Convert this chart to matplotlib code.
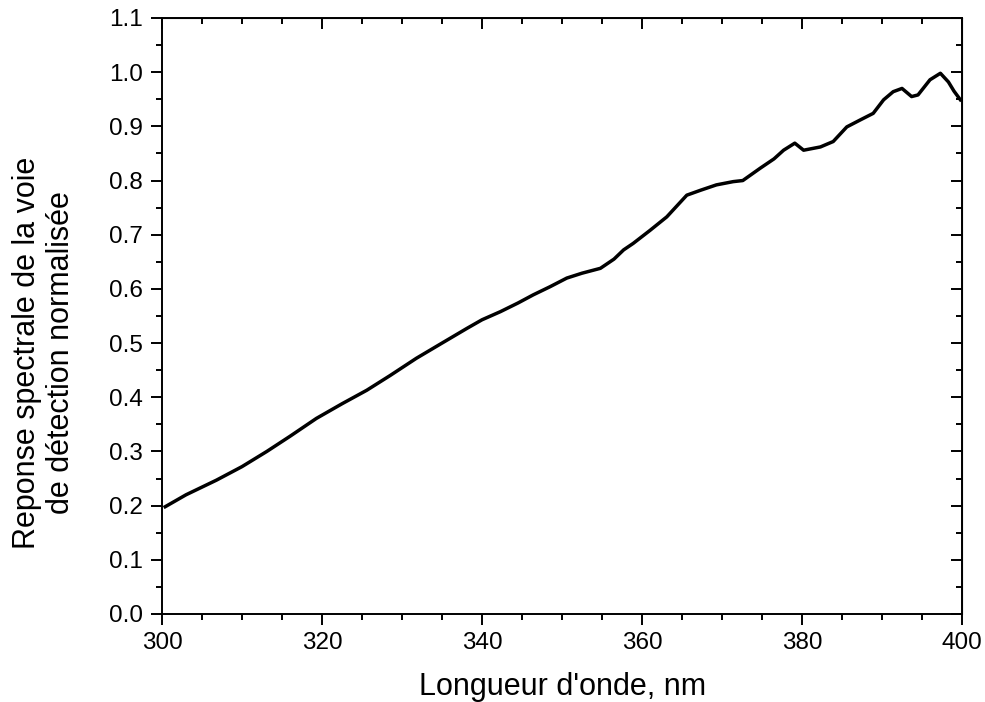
import matplotlib
matplotlib.use("Agg")
import matplotlib.pyplot as plt
from matplotlib.ticker import MultipleLocator, FormatStrFormatter

# values
wavelength = [300.4, 303.0, 306.8, 310.0, 313.1, 316.0, 319.3, 322.5, 325.6, 328.5,
              331.8, 335.0, 338.1, 340.0, 342.3, 344.5, 346.4, 348.5, 350.6, 352.5,
              354.8, 356.5, 357.7, 358.9, 361.0, 363.1, 365.6, 367.3, 369.3, 371.4,
              372.6, 374.8, 376.5, 377.7, 379.1, 380.2, 382.3, 383.9, 385.6, 387.3,
              388.9, 390.2, 391.4, 392.5, 393.7, 394.5, 396.0, 397.3, 398.3, 399.0,
              399.8]
response = [0.198, 0.220, 0.247, 0.272, 0.300, 0.328, 0.361, 0.388, 0.413, 0.440,
            0.472, 0.500, 0.527, 0.543, 0.558, 0.574, 0.589, 0.604, 0.620, 0.629,
            0.638, 0.655, 0.672, 0.684, 0.708, 0.733, 0.773, 0.782, 0.792, 0.798,
            0.800, 0.823, 0.840, 0.856, 0.869, 0.856, 0.862, 0.872, 0.899, 0.912,
            0.924, 0.949, 0.964, 0.970, 0.955, 0.958, 0.986, 0.998, 0.982, 0.965,
            0.949]

plt.rcParams['font.family'] = ['Liberation Sans', 'DejaVu Sans']

W, H = 985, 702
fig = plt.figure(figsize=(W / 100, H / 100), dpi=100)
ax = fig.add_axes([162 / W, 1 - 614 / H, 800 / W, 596 / H])

ax.plot(wavelength, response, color='black', linewidth=2.5)

ax.set_xlim(300, 400)
ax.set_ylim(0.0, 1.1)


def set_ticks(axis_x, axis_y):
    if axis_x is not None:
        axis_x.set_major_locator(MultipleLocator(20))
        axis_x.set_minor_locator(MultipleLocator(5))
    if axis_y is not None:
        axis_y.set_major_locator(MultipleLocator(0.1))
        axis_y.set_minor_locator(MultipleLocator(0.05))


set_ticks(ax.xaxis, ax.yaxis)
ax.yaxis.set_major_formatter(FormatStrFormatter('%.1f'))

for s in ax.spines.values():
    s.set_linewidth(1.4)

ax.tick_params(which='both', direction='out', width=1.4, labelsize=17.5,
               top=False, right=False)
ax.tick_params(which='major', length=8)
ax.tick_params(which='minor', length=4.5)
ax.tick_params(axis='x', pad=5)
ax.tick_params(axis='y', pad=6)

# inward ticks on top and right
ax_t = ax.secondary_xaxis('top')
set_ticks(ax_t.xaxis, None)
ax_t.tick_params(which='both', direction='in', width=1.4, labeltop=False)
ax_t.tick_params(which='major', length=8)
ax_t.tick_params(which='minor', length=4.5)
ax_r = ax.secondary_yaxis('right')
set_ticks(None, ax_r.yaxis)
ax_r.tick_params(which='both', direction='in', width=1.4, labelright=False)
ax_r.tick_params(which='major', length=8)
ax_r.tick_params(which='minor', length=4.5)

fig.text(563 / W, 1 - 695 / H, "Longueur d'onde, nm", fontsize=22,
         ha='center', va='baseline')
fig.text(44 / W, 1 - 353 / H, "Reponse spectrale de la voie\nde détection normalisée",
         fontsize=22, rotation=90, ha='center', va='center', linespacing=1.2)

fig.savefig("out.png", dpi=100)
